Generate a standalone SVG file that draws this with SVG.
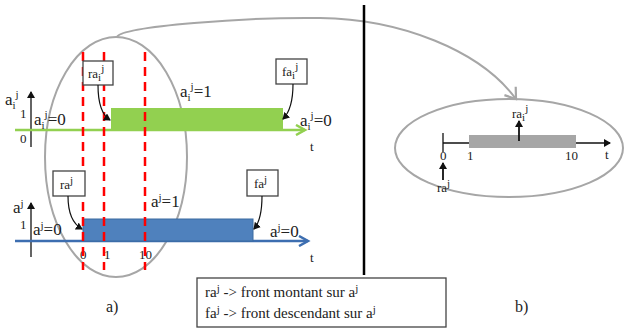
<svg xmlns="http://www.w3.org/2000/svg" width="627" height="329" viewBox="0 0 627 329" font-family="'Liberation Serif', 'Times New Roman', serif">
<style>
text{font-family:'Liberation Serif','Times New Roman',serif;font-size:17px;fill:#222}
.s{font-size:11px}
.m{font-size:13px}
.box{fill:#fff;stroke:#444;stroke-width:1.3}
.ell{fill:none;stroke:#a6a6a6;stroke-width:2}
.dash{stroke:#ff0000;stroke-width:2.5;stroke-dasharray:9,6}
.ax{stroke:#111;stroke-width:1.3;fill:none}
.cur{stroke:#111;stroke-width:1.2;fill:none}
</style>
<defs>
<marker id="ah" markerWidth="8" markerHeight="8" refX="6" refY="4" orient="auto" markerUnits="userSpaceOnUse"><path d="M0,0 L7,4 L0,8 Z" fill="#111"/></marker>
<marker id="ag" markerWidth="14" markerHeight="12" refX="10" refY="6" orient="auto" markerUnits="userSpaceOnUse"><path d="M1,1 L10,6 L1,11" fill="none" stroke="#92d050" stroke-width="2.5"/></marker>
<marker id="ab" markerWidth="14" markerHeight="12" refX="10" refY="6" orient="auto" markerUnits="userSpaceOnUse"><path d="M1,1 L10,6 L1,11" fill="none" stroke="#3d6eb0" stroke-width="2.5"/></marker>
<marker id="agr" markerWidth="16" markerHeight="16" refX="11" refY="8" orient="auto" markerUnits="userSpaceOnUse"><path d="M1,1 L11,8 L1,15" fill="none" stroke="#a6a6a6" stroke-width="2.2"/></marker>
</defs>

<g id="left-ellipse"><ellipse class="ell" cx="116" cy="157" rx="71" ry="120"/></g>

<g id="upper-chart">
<line x1="31" y1="147" x2="31" y2="92" class="ax" marker-end="url(#ah)"/>
<text x="5" y="105">a<tspan class="s" dy="4">i</tspan><tspan class="s" dy="-11">j</tspan></text>
<text x="20" y="118" class="m">1</text>
<text x="20" y="143" class="m">0</text>
<line x1="15" y1="130" x2="305" y2="130" stroke="#92d050" stroke-width="2.5" marker-end="url(#ag)"/>
<rect x="111" y="108" width="172" height="22" fill="#92d050"/>
<text x="34" y="125">a<tspan class="s" dy="4">i</tspan><tspan class="s" dy="-11">j</tspan><tspan dy="7">=0</tspan></text>
<text x="180" y="97">a<tspan class="s" dy="4">i</tspan><tspan class="s" dy="-11">j</tspan><tspan dy="7">=1</tspan></text>
<text x="300" y="126">a<tspan class="s" dy="4">i</tspan><tspan class="s" dy="-11">j</tspan><tspan dy="7">=0</tspan></text>
<text x="310" y="151" class="m">t</text>
</g>

<g id="lower-chart">
<line x1="31" y1="257" x2="31" y2="203" class="ax" marker-end="url(#ah)"/>
<text x="13" y="213">a<tspan class="s" dy="-6">j</tspan></text>
<text x="20" y="229" class="m">1</text>
<line x1="15" y1="241" x2="308" y2="241" stroke="#3d6eb0" stroke-width="2.5" marker-end="url(#ab)"/>
<rect x="83" y="219" width="170" height="22" fill="#4f81bd" stroke="#3a6aa0" stroke-width="1"/>
<text x="33" y="235">a<tspan class="s" dy="-6">j</tspan><tspan dy="6">=0</tspan></text>
<text x="151" y="207">a<tspan class="s" dy="-6">j</tspan><tspan dy="6">=1</tspan></text>
<text x="270" y="237">a<tspan class="s" dy="-6">j</tspan><tspan dy="6">=0</tspan></text>
<text x="310" y="262" class="m">t</text>
<text x="80" y="259" class="m">0</text>
<text x="104" y="259" class="m">1</text>
<text x="139" y="259" class="m">10</text>
</g>

<g id="dashes">
<line x1="83" y1="52" x2="83" y2="270" class="dash"/>
<line x1="104" y1="52" x2="104" y2="270" class="dash"/>
<line x1="145" y1="52" x2="145" y2="270" class="dash"/>
</g>

<g id="ra-i-box"><rect class="box" x="83" y="61" width="30" height="24"/><text x="88" y="78" class="m">ra<tspan class="s" dy="3">i</tspan><tspan class="s" dy="-9">j</tspan></text></g>
<g id="fa-i-box"><rect class="box" x="276" y="59" width="31" height="25"/><text x="282" y="76" class="m">fa<tspan class="s" dy="3">i</tspan><tspan class="s" dy="-9">j</tspan></text></g>
<g id="ra-box"><rect class="box" x="53" y="171" width="32" height="25"/><text x="60" y="189" class="m">ra<tspan class="s" dy="-5">j</tspan></text></g>
<g id="fa-box"><rect class="box" x="247" y="170" width="31" height="26"/><text x="254" y="188" class="m">fa<tspan class="s" dy="-5">j</tspan></text></g>

<g id="right-ellipse">
<ellipse class="ell" cx="509" cy="148" rx="114" ry="49"/>
<line x1="443" y1="133" x2="443" y2="152" class="ax"/>
<line x1="443" y1="143" x2="610" y2="143" class="ax" marker-end="url(#ah)"/>
<rect x="469" y="135" width="107" height="13" fill="#a6a6a6"/>
<line x1="519" y1="141" x2="519" y2="121" stroke="#111" stroke-width="1.8" marker-end="url(#ah)"/>
<text x="512" y="118" class="m">ra<tspan class="s" dy="3">i</tspan><tspan class="s" dy="-9">j</tspan></text>
<text x="440" y="160" class="m">0</text>
<text x="467" y="160" class="m">1</text>
<text x="565" y="160" class="m">10</text>
<text x="605" y="159" class="m">t</text>
<line x1="443" y1="180" x2="443" y2="163" stroke="#111" stroke-width="1.8" marker-end="url(#ah)"/>
<text x="437" y="192" class="m">ra<tspan class="s" dy="-5">j</tspan></text>
</g>

<g id="legend">
<rect x="197" y="278" width="249" height="49" fill="#fff" stroke="#444" stroke-width="1.3"/>
<text x="205" y="297" style="font-size:15px">ra<tspan class="s" dy="-5">j</tspan><tspan dy="5"> -&gt; front montant sur a</tspan><tspan class="s" dy="-5">j</tspan></text>
<text x="205" y="318" style="font-size:15px">fa<tspan class="s" dy="-5">j</tspan><tspan dy="5"> -&gt; front descendant sur a</tspan><tspan class="s" dy="-5">j</tspan></text>
</g>

<g id="connectors">
<path class="cur" d="M98,85 C98,105 102,115 110,120" marker-end="url(#ah)"/>
<path class="cur" d="M293,84 C293,100 290,112 283,119" marker-end="url(#ah)"/>
<path class="cur" d="M68,196 C68,212 73,224 82,229" marker-end="url(#ah)"/>
<path class="cur" d="M262,196 C262,212 260,222 254,229" marker-end="url(#ah)"/>
<path d="M117,37 C122,26 250,17 320,18 C400,19 480,50 516,99" fill="none" stroke="#a6a6a6" stroke-width="2" marker-end="url(#agr)"/>
<line x1="364" y1="5" x2="364" y2="275" stroke="#000" stroke-width="2.5"/>
</g>

<text x="106" y="312" style="font-size:16px">a)</text>
<text x="515" y="312" style="font-size:16px">b)</text>
</svg>
